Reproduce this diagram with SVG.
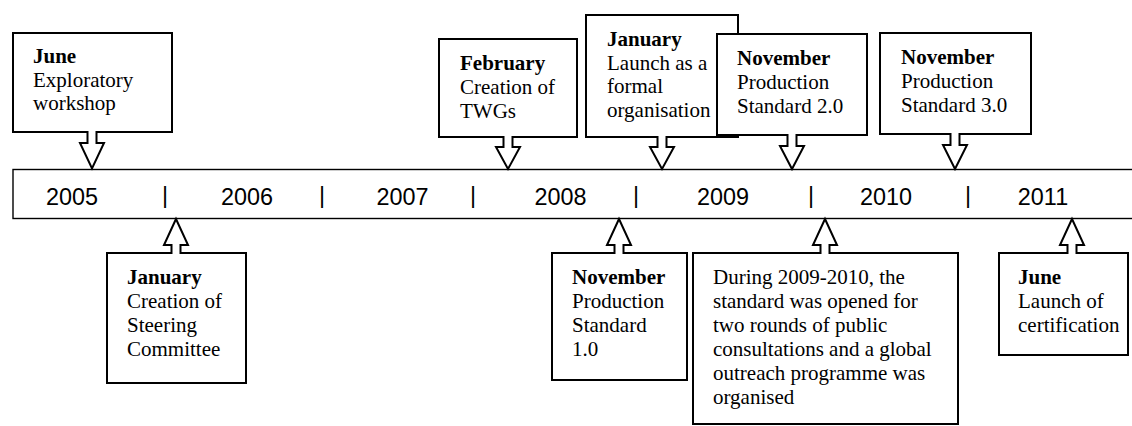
<svg xmlns="http://www.w3.org/2000/svg" width="1132" height="426" viewBox="0 0 1132 426">
  <style>
    .callout { fill: #ffffff; stroke: #000000; stroke-width: 2; stroke-linejoin: miter; }
    .bar { fill: #ffffff; stroke: #000000; stroke-width: 1.4; }
    .t { font-family: "Liberation Serif", "Times New Roman", serif; font-size: 21px; fill: #000000; }
    .b { font-weight: bold; }
    .yr { font-family: "Liberation Sans", Arial, sans-serif; font-size: 23.4px; fill: #000000; text-anchor: middle; }
  </style>

  <!-- timeline bar -->
  <g id="timeline">
    <rect class="bar" x="13" y="169.5" width="1130" height="49"/>
    <text class="yr" x="72" y="205">2005</text>
    <text class="yr" x="165" y="203">|</text>
    <text class="yr" x="247" y="205">2006</text>
    <text class="yr" x="322" y="203">|</text>
    <text class="yr" x="402.5" y="205">2007</text>
    <text class="yr" x="473" y="203">|</text>
    <text class="yr" x="560.5" y="205">2008</text>
    <text class="yr" x="636" y="203">|</text>
    <text class="yr" x="723" y="205">2009</text>
    <text class="yr" x="811" y="203">|</text>
    <text class="yr" x="886" y="205">2010</text>
    <text class="yr" x="968" y="203">|</text>
    <text class="yr" x="1043" y="205">2011</text>
  </g>

  <!-- callouts above the bar (arrow points down) -->
  <g id="n-2005-june">
    <path class="callout" d="M13,33 H172 V132 H96.5 V143 H104 L92,168.5 L80,143 H87.5 V132 H13 Z"/>
    <text class="t" x="33" y="63"><tspan class="b">June</tspan><tspan x="33" dy="23.5">Exploratory</tspan><tspan x="33" dy="23.5">workshop</tspan></text>
  </g>

  <g id="n-2008-february">
    <path class="callout" d="M439,39 H577 V137 H512.5 V147 H520 L508,169 L496,147 H503.5 V137 H439 Z"/>
    <text class="t" x="460" y="70"><tspan class="b">February</tspan><tspan x="460" dy="24">Creation of</tspan><tspan x="460" dy="24">TWGs</tspan></text>
  </g>

  <g id="n-2009-january">
    <path class="callout" d="M586,15 H738 V137 H666.5 V147 H674 L662,169 L650,147 H657.5 V137 H586 Z"/>
    <text class="t" x="607" y="46"><tspan class="b">January</tspan><tspan x="607" dy="23.7">Launch as a</tspan><tspan x="607" dy="23.7">formal</tspan><tspan x="607" dy="23.7">organisation</tspan></text>
  </g>

  <g id="n-2009-november">
    <path class="callout" d="M717,34 H867 V135 H796.5 V146 H804 L792,169 L780,146 H787.5 V135 H717 Z"/>
    <text class="t" x="737" y="65"><tspan class="b">November</tspan><tspan x="737" dy="24">Production</tspan><tspan x="737" dy="24">Standard 2.0</tspan></text>
  </g>

  <g id="n-2010-november">
    <path class="callout" d="M880,33 H1031 V134 H959.5 V145 H967 L955,169 L943,145 H950.5 V134 H880 Z"/>
    <text class="t" x="901" y="63.5"><tspan class="b">November</tspan><tspan x="901" dy="24">Production</tspan><tspan x="901" dy="24">Standard 3.0</tspan></text>
  </g>

  <!-- callouts below the bar (arrow points up) -->
  <g id="n-2006-january">
    <path class="callout" d="M107,253 H171.5 V245 H164 L176,219 L188,245 H180.5 V253 H246 V383 H107 Z"/>
    <text class="t" x="127" y="284"><tspan class="b">January</tspan><tspan x="127" dy="24">Creation of</tspan><tspan x="127" dy="24">Steering</tspan><tspan x="127" dy="24">Committee</tspan></text>
  </g>

  <g id="n-2008-november">
    <path class="callout" d="M552,253 H614.5 V245 H607 L619,219 L631,245 H623.5 V253 H687 V380 H552 Z"/>
    <text class="t" x="572" y="283.5"><tspan class="b">November</tspan><tspan x="572" dy="24">Production</tspan><tspan x="572" dy="24">Standard</tspan><tspan x="572" dy="24">1.0</tspan></text>
  </g>

  <g id="n-2009-2010-consultations">
    <path class="callout" d="M693,253 H820.5 V245 H813 L825,219 L837,245 H829.5 V253 H958 V424 H693 Z"/>
    <text class="t" x="713" y="283.5"><tspan>During 2009-2010, the</tspan><tspan x="713" dy="24">standard was opened for</tspan><tspan x="713" dy="24">two rounds of public</tspan><tspan x="713" dy="24">consultations and a global</tspan><tspan x="713" dy="24">outreach programme was</tspan><tspan x="713" dy="24">organised</tspan></text>
  </g>

  <g id="n-2011-june">
    <path class="callout" d="M999,253 H1067.5 V245 H1060 L1072,219 L1084,245 H1076.5 V253 H1128 V355 H999 Z"/>
    <text class="t" x="1018" y="283.5"><tspan class="b">June</tspan><tspan x="1018" dy="24">Launch of</tspan><tspan x="1018" dy="24">certification</tspan></text>
  </g>
</svg>
